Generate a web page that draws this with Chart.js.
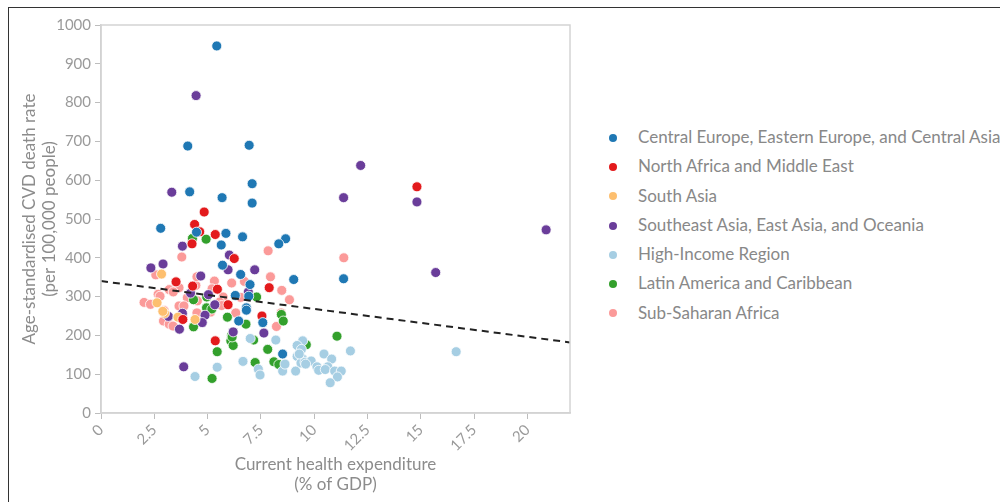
<!DOCTYPE html>
<html>
<head>
<meta charset="utf-8">
<script src="https://cdn.jsdelivr.net/npm/chart.js@4/dist/chart.umd.min.js"></script>
<style>
  html, body { margin: 0; padding: 0; background: #fff; overflow: hidden; }
  #frame { position: absolute; left: 8px; top: 7px; width: 1200px; height: 700px; border: 1px solid #333; box-sizing: border-box; }
  #wrap { position: absolute; left: 0; top: 0; width: 600px; height: 502px; }
  #legend { position: absolute; left: 605px; top: 122px; font-family: Lato, "Open Sans", sans-serif; font-size: 17px; color: #888; }
  #legend .item { height: 29.3px; line-height: 29.3px; white-space: nowrap; }
  #legend .dot { display: inline-block; width: 8px; height: 8px; border-radius: 50%; margin: 0 21px 0 4px; vertical-align: middle; position: relative; top: -1px; }
</style>
</head>
<body>
<div id="frame"></div>
<div id="wrap"><canvas id="chart" width="600" height="502"></canvas></div>
<div id="legend"></div>
<script>
// Health expenditure (% of GDP) vs age-standardised CVD death rate, by region: [x, y]
const centralEurope = [[5.43,946],[4.07,688],[6.95,690],[7.09,591],[4.16,570],[5.68,555],[7.09,541],[2.80,476],[5.86,463],[6.64,454],[8.66,449],[8.34,436],[5.64,433],[4.48,466],[5.70,381],[6.55,357],[9.04,344],[11.38,346],[6.99,331],[6.30,303],[6.93,301],[6.82,271],[6.82,265],[6.46,237],[7.59,233],[8.52,152]];
const northAfrica = [[14.82,583],[4.84,518],[4.39,486],[4.63,467],[5.36,460],[4.27,436],[6.25,398],[3.52,338],[4.30,327],[5.46,319],[7.89,323],[5.96,279],[7.55,250],[3.84,241],[5.36,186]];
const southAsia = [[2.84,358],[2.63,284],[2.98,257],[2.90,262],[3.61,247],[4.41,241]];
const southeastAsia = [[4.46,818],[12.18,638],[11.38,555],[14.82,544],[20.88,472],[3.32,569],[3.82,430],[2.34,374],[2.91,384],[6.02,407],[15.70,362],[4.68,353],[5.96,369],[7.21,369],[4.20,309],[5.04,305],[6.91,312],[5.34,279],[3.82,257],[3.16,249],[4.88,252],[4.75,233],[3.68,216],[6.20,209],[7.64,206],[3.88,119]];
const highIncome = [[16.66,158],[11.70,160],[9.46,186],[8.20,188],[7.00,192],[9.20,174],[9.40,164],[9.20,146],[9.45,140],[9.38,129],[9.57,131],[9.86,134],[10.46,152],[10.82,139],[10.13,119],[10.21,110],[10.64,119],[10.52,112],[10.96,108],[11.27,108],[11.09,93],[10.75,78],[9.13,108],[8.52,108],[8.63,126],[7.38,113],[7.46,98],[6.66,133],[5.45,118],[4.41,94],[9.30,152],[9.60,126]];
const latinAmerica = [[4.93,448],[4.29,450],[7.30,299],[4.96,299],[4.34,292],[4.95,271],[5.20,268],[5.93,247],[8.46,254],[8.55,237],[6.80,229],[4.34,222],[6.13,200],[6.09,186],[6.20,174],[7.16,188],[11.07,198],[9.63,176],[7.82,164],[5.45,158],[7.23,130],[8.11,132],[8.34,125],[5.21,89],[6.15,196]];
const subSaharan = [[11.39,400],[7.84,418],[3.79,402],[2.57,356],[7.95,351],[6.13,335],[6.73,339],[5.32,340],[4.45,329],[3.66,323],[3.20,318],[8.48,316],[8.84,292],[6.55,298],[2.68,306],[2.77,301],[3.39,312],[2.02,285],[2.32,280],[4.05,297],[4.52,289],[5.21,320],[5.73,299],[5.57,286],[5.66,277],[3.66,276],[3.89,276],[4.50,258],[5.14,260],[6.32,258],[8.45,258],[2.96,264],[2.93,237],[3.20,229],[3.38,224],[3.84,246],[8.23,223],[4.50,351]];

// Fitted trend line endpoints
const trendX = [0, 22];
const trendY = [340, 182];

const regionNames = [
  "Central Europe, Eastern Europe, and Central Asia",
  "North Africa and Middle East",
  "South Asia",
  "Southeast Asia, East Asia, and Oceania",
  "High-Income Region",
  "Latin America and Caribbean",
  "Sub-Saharan Africa"
];
const regionColors = ["#1f78b4", "#e31a1c", "#fdbf6f", "#6a3d9a", "#a6cee3", "#33a02c", "#fb9a99"];
const regionData = [centralEurope, northAfrica, southAsia, southeastAsia, highIncome, latinAmerica, subSaharan];

const xTickStep = 2.5;
const yTickStep = 100;

const FONT = 'Lato, "Open Sans", sans-serif';

const scatterSets = regionData.map((pts, i) => ({
  type: 'scatter',
  label: regionNames[i],
  data: pts.map(p => ({ x: p[0], y: p[1] })),
  backgroundColor: regionColors[i],
  borderColor: '#ffffff',
  borderWidth: 0.8,
  pointRadius: 5,
  order: 1
}));

const trendSet = {
  type: 'line',
  label: 'trend',
  data: trendX.map((x, i) => ({ x: x, y: trendY[i] })),
  borderColor: '#222',
  borderWidth: 2,
  borderDash: [7, 5],
  pointRadius: 0,
  fill: false,
  order: 0
};

// Light frame around the plotting area
const plotFrame = {
  id: 'plotFrame',
  afterDatasetsDraw(chart) {
    const a = chart.chartArea, c = chart.ctx;
    c.save();
    c.strokeStyle = '#d4d4d4';
    c.lineWidth = 1.5;
    c.strokeRect(a.left, a.top, a.right - a.left, a.bottom - a.top);
    c.restore();
  }
};

new Chart(document.getElementById('chart'), {
  data: { datasets: [...scatterSets, trendSet] },
  options: {
    responsive: false,
    animation: false,
    layout: { padding: { left: 19, right: 30, top: 25, bottom: 7 } },
    plugins: { legend: { display: false }, tooltip: { enabled: false } },
    scales: {
      x: {
        type: 'linear',
        min: 0, max: 22,
        afterFit(s) { s.height = 82; },
        afterBuildTicks(s) { s.ticks = s.ticks.filter(t => Math.abs(t.value / xTickStep - Math.round(t.value / xTickStep)) < 1e-6); },
        ticks: { stepSize: xTickStep, minRotation: 45, maxRotation: 45, color: '#9a9a9a', font: { family: FONT, size: 15 }, padding: 2, callback: v => String(v) },
        grid: { drawOnChartArea: false, drawTicks: true, tickLength: 6, color: '#bdbdbd' },
        border: { display: true, color: '#cfcfcf', width: 1.5 },
        title: { display: true, text: ['Current health expenditure', '(% of GDP)'], color: '#8c8c8c', font: { family: FONT, size: 17 }, padding: { top: 2, bottom: 0 } }
      },
      y: {
        type: 'linear',
        min: 0, max: 1000,
        afterFit(s) { s.width = 82; },
        ticks: { stepSize: yTickStep, color: '#9a9a9a', font: { family: FONT, size: 15 }, padding: 4, callback: v => String(v) },
        grid: { drawOnChartArea: false, drawTicks: true, tickLength: 6, color: '#bdbdbd' },
        border: { display: true, color: '#cfcfcf', width: 1.5 },
        title: { display: true, text: ['Age-standardised CVD death rate', '(per 100,000 people)'], color: '#8c8c8c', font: { family: FONT, size: 17 }, padding: { top: 0, bottom: 2 } }
      }
    }
  },
  plugins: [plotFrame]
});

// Region legend
const legendEl = document.getElementById('legend');
regionNames.forEach((name, i) => {
  const row = document.createElement('div');
  row.className = 'item';
  const dot = document.createElement('span');
  dot.className = 'dot';
  dot.style.background = regionColors[i];
  row.appendChild(dot);
  row.appendChild(document.createTextNode(name));
  legendEl.appendChild(row);
});
</script>
</body>
</html>
